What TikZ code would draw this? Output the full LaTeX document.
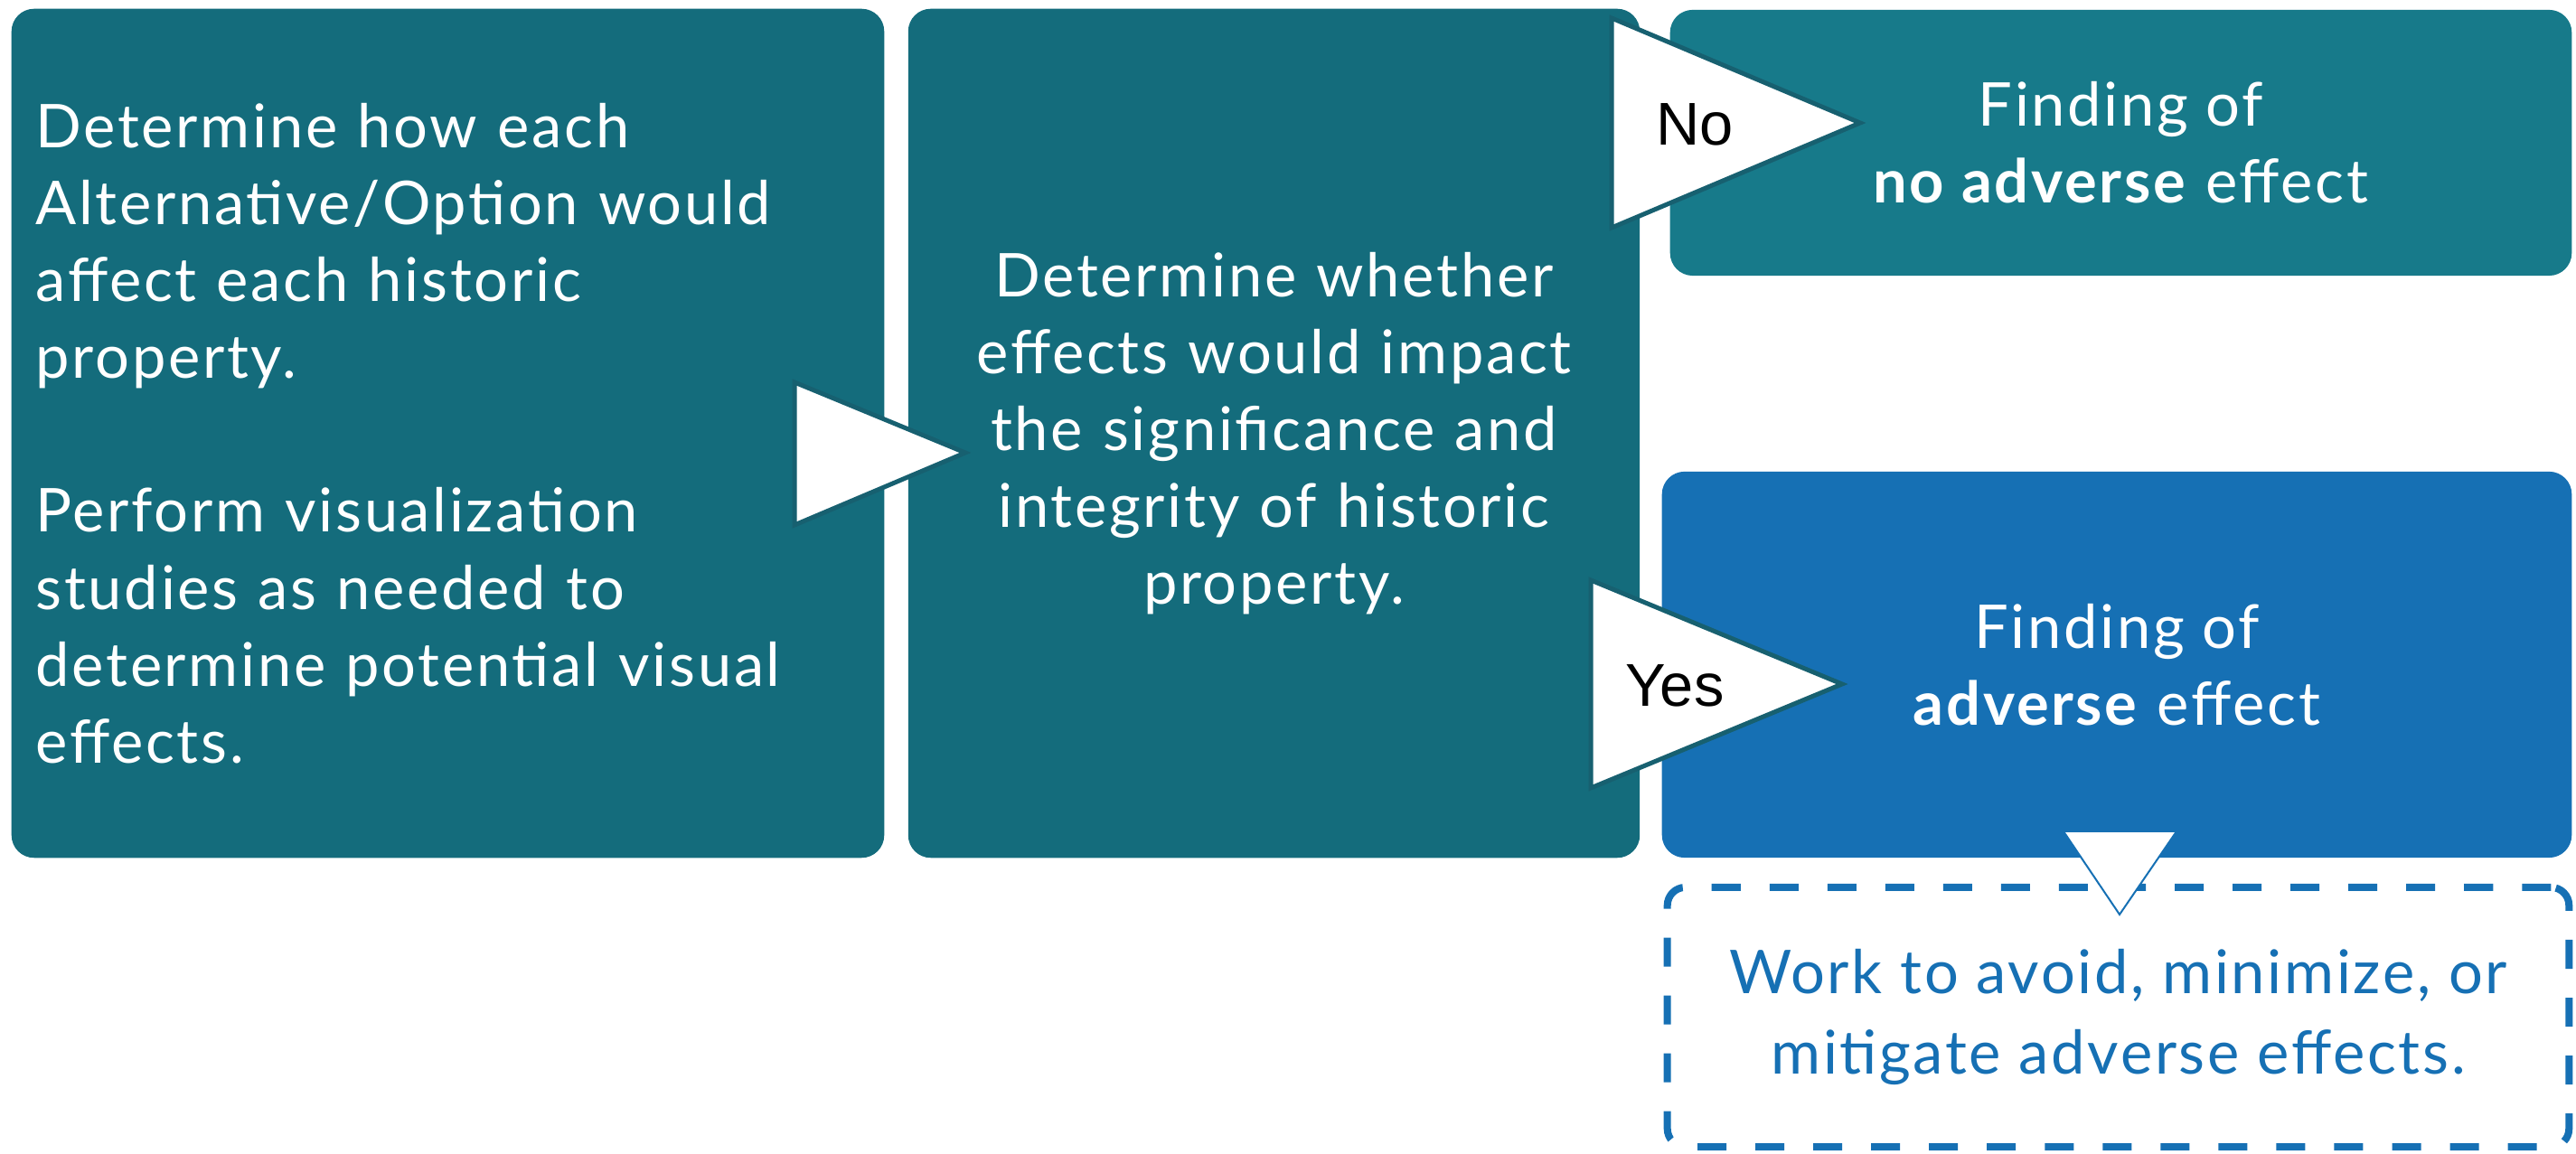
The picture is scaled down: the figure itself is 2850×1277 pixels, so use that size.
\documentclass[tikz,border=0pt]{standalone}
\usepackage{fontspec}
\setmainfont{Lato}[LetterSpace=4]
\newfontfamily\labelfont{Liberation Sans}
\usetikzlibrary{positioning}

\begin{document}
\begin{tikzpicture}[x=0.01cm,y=-0.01cm,
    caja/.style={rounded corners=0.25cm,inner sep=0pt,text=white,
        font=\fontsize{19}{24.2}\selectfont},
    flecha/.style={fill=white,draw=arrowcolor,line width=0.05cm,line join=miter},
    etiqueta/.style={font=\labelfont\fontsize{19}{24}\selectfont,text=black,inner sep=0pt}]
    % Colores
    \definecolor{tealcolor}{RGB}{20,108,124}
    \definecolor{nocolor}{RGB}{23,122,138}
    \definecolor{bluecolor}{RGB}{22,112,180}
    \definecolor{arrowcolor}{RGB}{23,96,112}

    \useasboundingbox (0,0) rectangle (2850,1277);

    % Cajas principales
    \node[caja,fill=tealcolor,minimum width=9.65cm,minimum height=9.39cm,
        text width=9.11cm,align=left] (estudio) at (495.5,479.5)
        {Determine how each\\ Alternative/Option would\\ affect each historic\\ property.\\[24.2pt]
         Perform visualization\\ studies as needed to\\ determine potential visual\\ effects.};
    \node[caja,fill=tealcolor,minimum width=8.09cm,minimum height=9.39cm,
        text width=7.8cm,align=center] (efectos) at (1409.5,479.5)
        {Determine whether\\ effects would impact\\ the significance and\\ integrity of historic\\ property.};

    % Resultados
    \node[caja,fill=nocolor,minimum width=9.97cm,minimum height=2.94cm,align=center]
        (noadverso) at (2346.5,158) {Finding of\\ \textbf{no adverse} effect};
    \node[caja,fill=bluecolor,minimum width=10.06cm,minimum height=4.27cm,align=center]
        (adverso) at (2342,735.5) {Finding of\\ \textbf{adverse} effect};
    \node[caja,rounded corners=0.2cm,draw=bluecolor,text=bluecolor,line width=0.08cm,
        dash pattern=on 0.32cm off 0.32cm,minimum width=9.97cm,minimum height=2.87cm,
        align=center,font=\fontsize{19}{25.3}\selectfont]
        (mitigar) at (2343.5,1125.5) {Work to avoid, minimize, or\\ mitigate adverse effects.};

    % Flechas
    \draw[flecha] (879,423) -- (1068,501) -- (879,581) -- cycle;
    \draw[flecha] (1783,20) -- (2058,136) -- (1783,252) -- cycle;
    \node[etiqueta] (no) at (1875,138) {No};
    \draw[flecha] (1760,642) -- (2038,757) -- (1760,872) -- cycle;
    \node[etiqueta] (yes) at (1853,759) {Yes};
    \draw[flecha,draw=bluecolor,line width=0.02cm] (2283,920) -- (2408,920) -- (2345,1012) -- cycle;

\end{tikzpicture}
\end{document}
